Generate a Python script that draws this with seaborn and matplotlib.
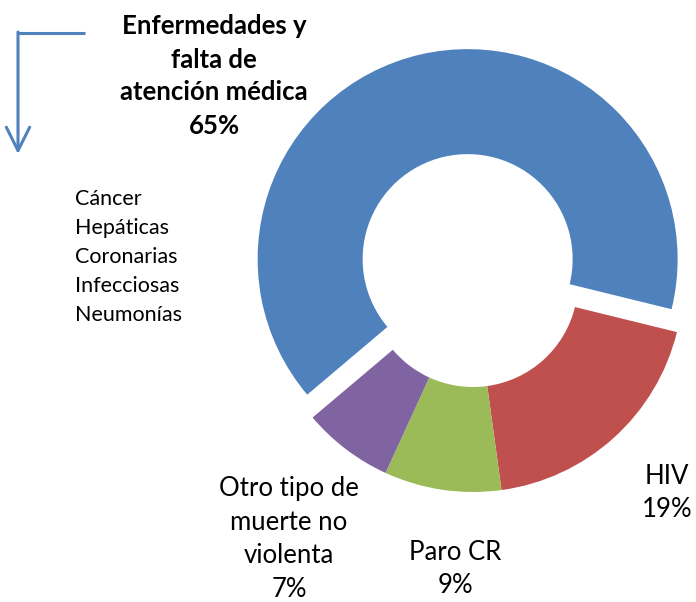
import matplotlib.pyplot as plt
import seaborn as sns

# slice data (clockwise order, starting with the big one)
categories = [
    "Enfermedades y\nfalta de\natención médica",
    "HIV",
    "Paro CR",
    "Otro tipo de\nmuerte no\nviolenta",
]
values = [65, 19, 9, 7]
colors = ["#4F81BD", "#C0504D", "#9BBB59", "#8064A2"]
causes = ["Cáncer", "Hepáticas", "Coronarias", "Infecciosas", "Neumonías"]

W, H = 696, 602

sns.set_theme(style="white")
plt.rcParams["font.family"] = ["Lato", "DejaVu Sans"]

fig = plt.figure(figsize=(W / 100, H / 100), dpi=100)
ax = fig.add_axes([0, 0, 1, 1])

radius = 210
explode = [23.5, 0, 0, 0]
ax.pie(
    values,
    colors=colors,
    center=(473, H - 282),
    radius=radius,
    explode=explode,
    startangle=220.2,
    counterclock=False,
    wedgeprops=dict(width=105, linewidth=0),
)
ax.set_xlim(0, W)
ax.set_ylim(0, H)
ax.set_aspect("equal")
ax.axis("off")

# slice labels
label_pos = [(214, 76), (667, 493), (455, 569), (289, 539)]
for i, (cat, val) in enumerate(zip(categories, values)):
    x, y = label_pos[i]
    ax.text(
        x, H - y, f"{cat}\n{val}%",
        ha="center", va="center",
        fontsize=18.5,
        fontweight="bold" if i == 0 else "normal",
        linespacing=1.45 if i == 0 else 1.42,
        color="black",
    )

# list of diseases
ax.text(75, H - 257, "\n".join(causes), ha="left", va="center",
        fontsize=15.5, linespacing=1.55, color="black")

# bent arrow
ax.plot([85, 18], [H - 33, H - 33], color="#4F81BD", lw=2.2, solid_capstyle="butt")
ax.annotate(
    "", xy=(18, H - 154), xytext=(18, H - 32),
    arrowprops=dict(arrowstyle="->", color="#4F81BD", lw=2.2, mutation_scale=42,
                    shrinkA=0, shrinkB=0),
)

fig.savefig("out.png", dpi=100)
